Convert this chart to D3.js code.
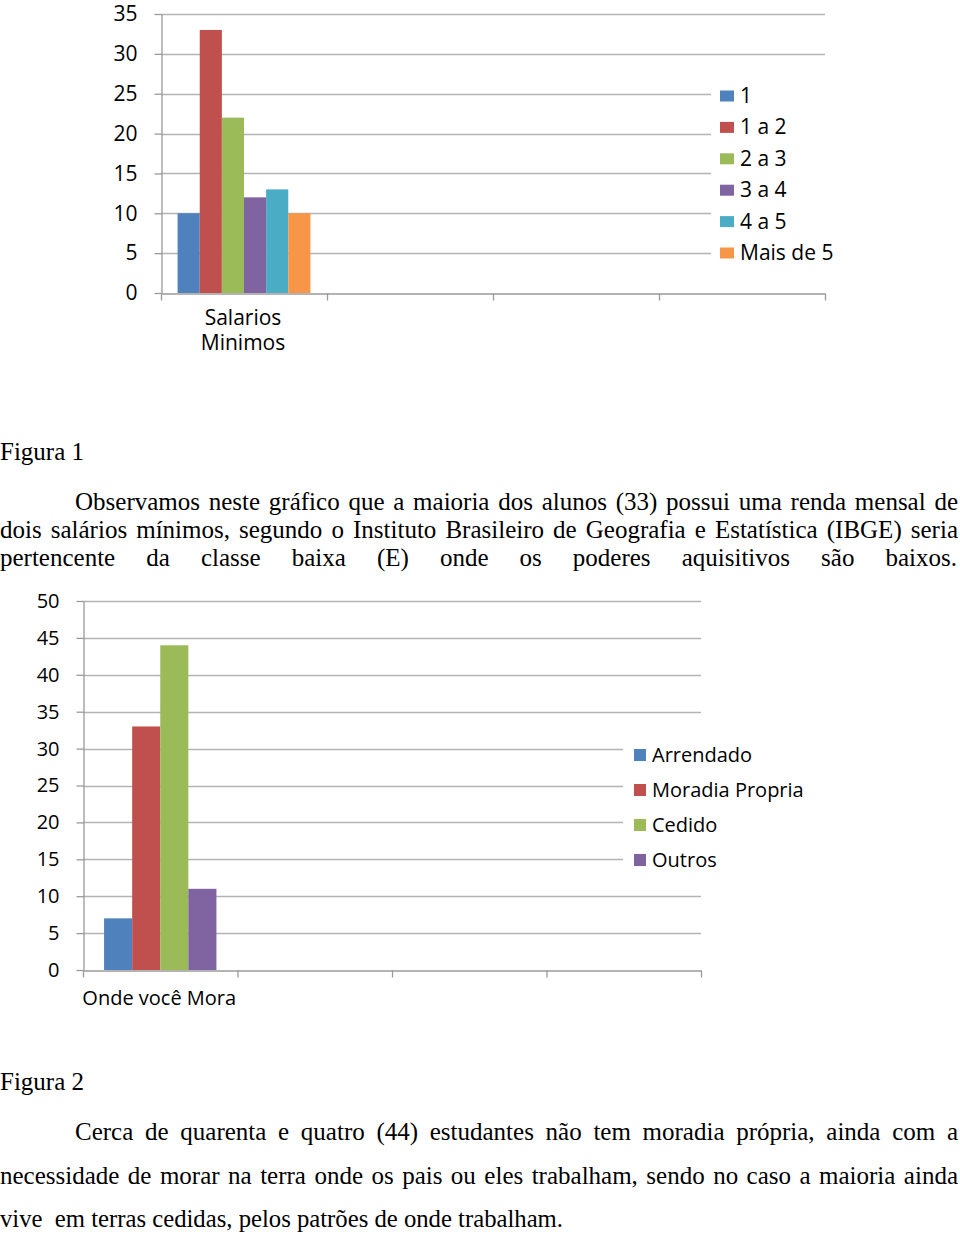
<!DOCTYPE html>
<html>
<head>
<meta charset="utf-8">
<script src="https://cdn.jsdelivr.net/npm/d3@7"></script>
<style>
  html, body { margin: 0; padding: 0; background: #fff; }
  svg { display: block; }
  .tick text { font-family: "Open Sans", sans-serif; fill: #000; }
  .body-text { font-family: "Liberation Serif", "Times New Roman", serif; font-size: 25px; fill: #000; }
</style>
</head>
<body>
<script>
// ---- chart 1 : salários mínimos
const salaryCategories = ["Salarios Minimos", "c2", "c3", "c4"];
const salarySeries = ["1", "1 a 2", "2 a 3", "3 a 4", "4 a 5", "Mais de 5"];
const salaryValues = [10, 33, 22, 12, 13, 10];
const salaryTicks = [0, 5, 10, 15, 20, 25, 30, 35];

// ---- chart 2 : onde você mora
const housingCategories = ["Onde você Mora", "c2", "c3", "c4"];
const housingSeries = ["Arrendado", "Moradia Propria", "Cedido", "Outros"];
const housingValues = [7, 33, 44, 11];
const housingTicks = [0, 5, 10, 15, 20, 25, 30, 35, 40, 45, 50];

const palette = ["#4F81BD", "#C0504D", "#9BBB59", "#8064A2", "#4BACC6", "#F79646"];

const width = 960;
const height = 1235;
const gridColor = "#b4b4b4";
const axisColor = "#9a9a9a";

const svg = d3.select("body")
    .append("svg")
    .attr("width", width)
    .attr("height", height);

svg.append("rect").attr("width", width).attr("height", height).attr("fill", "#fff");

function drawChart(opt) {
    const g = svg.append("g");

    const y = d3.scaleLinear()
        .domain([0, d3.max(opt.ticks)])
        .range([opt.bottom, opt.top]);

    const xCat = d3.scaleBand()
        .domain(opt.categories)
        .range([opt.left, opt.right]);

    // gridlines
    g.selectAll(".grid")
        .data(opt.ticks.filter(t => t > 0))
        .enter()
        .append("line")
        .attr("x1", opt.left)
        .attr("x2", opt.right)
        .attr("y1", d => Math.round(y(d)) + 0.5)
        .attr("y2", d => Math.round(y(d)) + 0.5)
        .attr("stroke", gridColor)
        .attr("stroke-width", 1.3);

    // y axis
    const yAxis = g.append("g")
        .attr("transform", `translate(${opt.left + 0.5},0)`)
        .call(d3.axisLeft(y).tickValues(opt.ticks).tickSize(7).tickPadding(17).tickSizeOuter(0));
    yAxis.select(".domain").attr("stroke", axisColor).attr("stroke-width", 1.3);
    yAxis.selectAll(".tick line").attr("stroke", axisColor).attr("stroke-width", 1.3);
    yAxis.selectAll(".tick text").style("font-size", opt.tickFont + "px");

    // x axis with ticks on the band edges
    const edges = d3.range(opt.categories.length + 1);
    const xEdge = d3.scaleLinear().domain([0, opt.categories.length]).range([opt.left, opt.right]);
    const xAxis = g.append("g")
        .attr("transform", `translate(0,${Math.round(opt.bottom) + 0.5})`)
        .call(d3.axisBottom(xEdge).tickValues(edges).tickSize(7).tickFormat("").tickSizeOuter(0));
    xAxis.select(".domain").attr("stroke", axisColor).attr("stroke-width", 1.3);
    xAxis.selectAll(".tick line").attr("stroke", axisColor).attr("stroke-width", 1.3);

    // bars (only first category has data)
    const xSeries = d3.scaleBand()
        .domain(opt.series)
        .range([xCat(opt.categories[0]), xCat(opt.categories[0]) + xCat.bandwidth()])
        .paddingInner(0)
        .paddingOuter(0.75);

    g.selectAll(".bar")
        .data(opt.values)
        .enter()
        .append("rect")
        .attr("x", (d, i) => xSeries(opt.series[i]))
        .attr("width", xSeries.bandwidth())
        .attr("y", d => y(d))
        .attr("height", d => y(0) - y(d))
        .attr("fill", (d, i) => palette[i]);

    // category label
    const cx = xCat(opt.categories[0]) + xCat.bandwidth() / 2 + opt.labelShift;
    opt.labelLines.forEach((line, i) => {
        g.append("text")
            .attr("text-anchor", "middle")
            .attr("font-family", "Open Sans, sans-serif")
            .attr("font-size", opt.labelFont)
            .attr("fill", "#000")
            .attr("x", cx)
            .attr("y", opt.labelY + i * 25)
            .text(line);
    });

    // legend
    const lg = g.append("g");
    lg.append("rect")
        .attr("x", opt.legend.boxX)
        .attr("y", opt.legend.boxY)
        .attr("width", opt.legend.boxW)
        .attr("height", opt.legend.boxH)
        .attr("fill", "#fff");
    opt.series.forEach((s, i) => {
        const cy = opt.legend.y0 + i * opt.legend.step;
        lg.append("rect")
            .attr("x", opt.legend.x)
            .attr("y", cy - opt.legend.sh / 2)
            .attr("width", opt.legend.sw)
            .attr("height", opt.legend.sh)
            .attr("fill", palette[i]);
        lg.append("text")
            .attr("x", opt.legend.x + opt.legend.sw + 6)
            .attr("y", cy + 7)
            .attr("font-family", "Open Sans, sans-serif")
            .attr("font-size", opt.legend.font)
            .attr("fill", "#000")
            .text(s);
    });
}

drawChart({
    categories: salaryCategories,
    series: salarySeries,
    values: salaryValues,
    ticks: salaryTicks,
    left: 161, right: 825, top: 14, bottom: 293,
    tickFont: 21,
    labelLines: ["Salarios", "Minimos"],
    labelFont: 21,
    labelY: 325,
    labelShift: -1,
    legend: { boxX: 711, boxY: 80, boxW: 140, boxH: 188, x: 720, y0: 96, step: 31.4, sw: 14, sh: 11, font: 21 }
});

drawChart({
    categories: housingCategories,
    series: housingSeries,
    values: housingValues,
    ticks: housingTicks,
    left: 83, right: 701, top: 601, bottom: 970,
    tickFont: 20,
    labelLines: ["Onde você Mora"],
    labelFont: 20,
    labelY: 1005,
    labelShift: -1,
    legend: { boxX: 623, boxY: 738, boxW: 190, boxH: 136, x: 634, y0: 755, step: 35, sw: 12, sh: 12, font: 20 }
});

// ---- text body
const textLines = [
    { t: "Figura 1", x: 0, y: 460 },
    { t: "Observamos neste gráfico que a maioria dos alunos (33) possui uma renda mensal de", x: 75, y: 510, end: 958 },
    { t: "dois salários mínimos, segundo o Instituto Brasileiro de Geografia e Estatística (IBGE) seria", x: 0, y: 538, end: 958 },
    { t: "pertencente da classe baixa (E) onde os poderes aquisitivos são baixos.", x: 0, y: 566, end: 957 },
    { t: "Figura 2", x: 0, y: 1090 },
    { t: "Cerca de quarenta e quatro (44) estudantes não tem moradia própria, ainda com a", x: 75, y: 1140, end: 958 },
    { t: "necessidade de morar na terra onde os pais ou eles trabalham, sendo no caso a maioria ainda", x: 0, y: 1184, end: 958 },
    { t: "vive  em terras cedidas, pelos patrões de onde trabalham.", x: 0, y: 1227, end: 563 }
];

textLines.forEach(l => {
    const el = svg.append("text")
        .attr("class", "body-text")
        .attr("x", l.x)
        .attr("y", l.y)
        .attr("xml:space", "preserve")
        .style("white-space", "pre")
        .text(l.t);
    if (l.end) {
        const target = l.end - l.x;
        const natural = el.node().getComputedTextLength();
        const spaces = (l.t.match(/ /g) || []).length;
        if (natural < target && spaces > 0) {
            el.attr("word-spacing", (target - natural) / spaces);
        } else {
            el.attr("textLength", target).attr("lengthAdjust", "spacingAndGlyphs");
        }
    }
});
</script>
</body>
</html>
